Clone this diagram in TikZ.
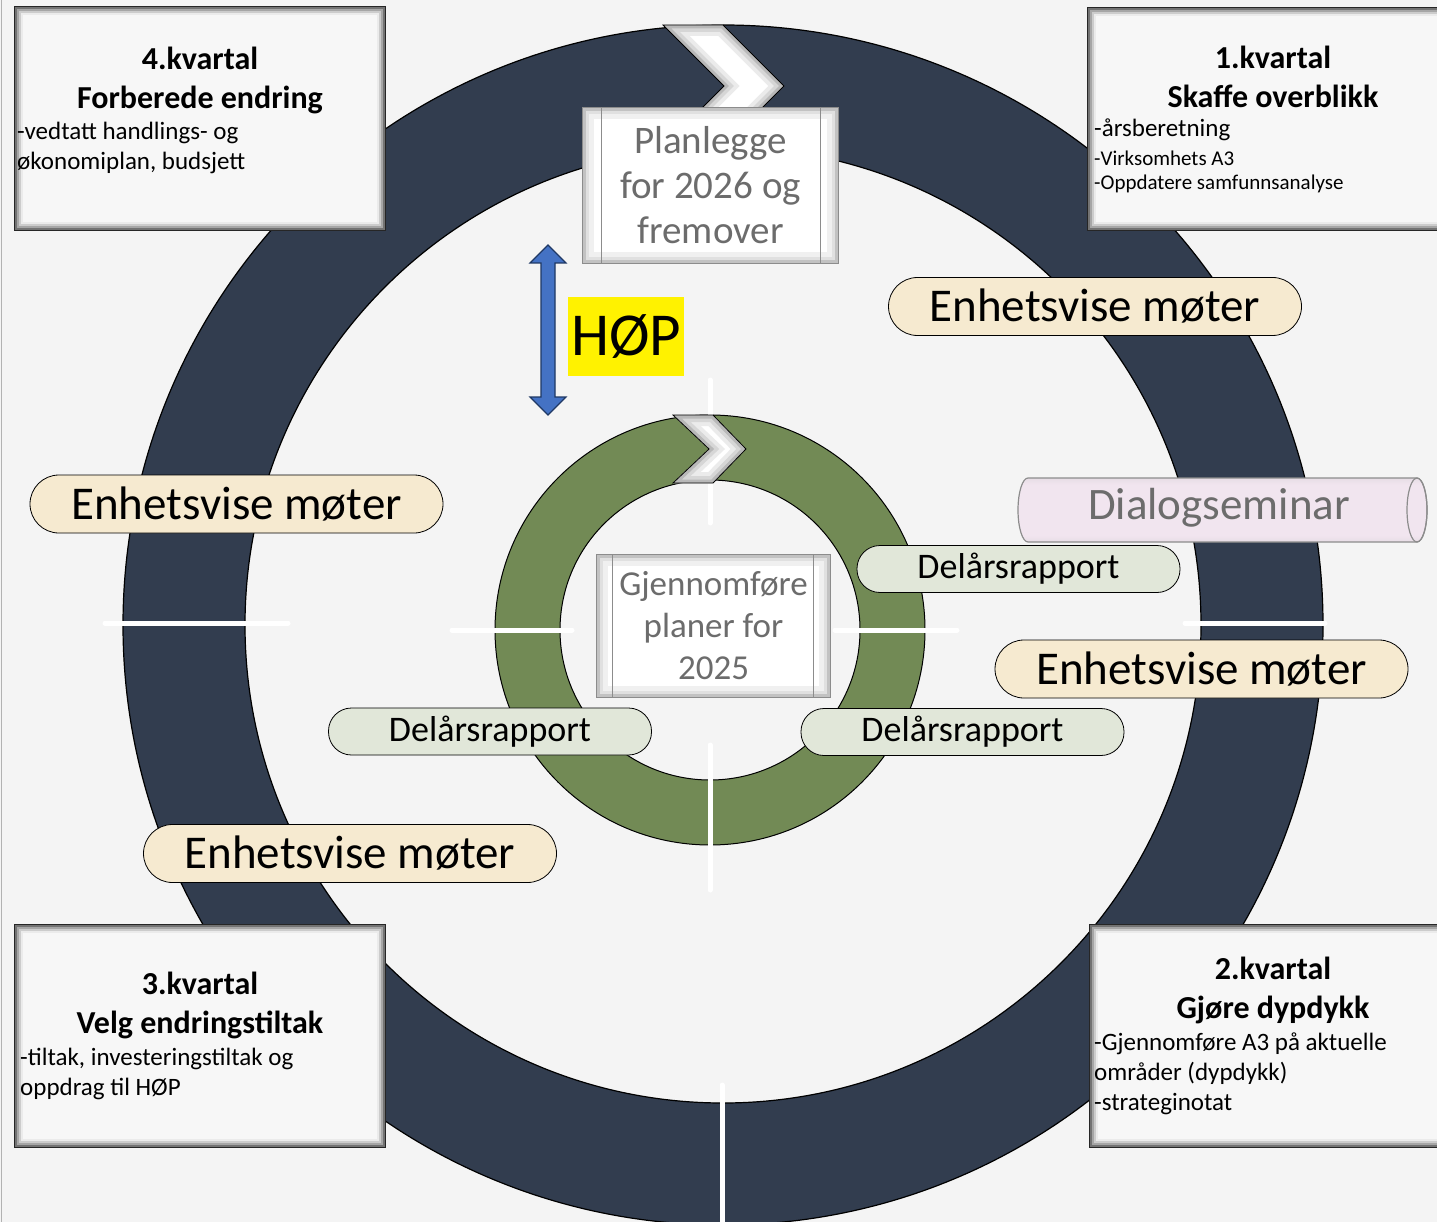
\documentclass[tikz,border=0pt]{standalone}
\usepackage{fontspec}
\setmainfont{Carlito}
\definecolor{bg}{RGB}{244,244,244}
\definecolor{ringdark}{RGB}{50,61,79}
\definecolor{ringgreen}{RGB}{114,138,85}
\definecolor{pillcream}{RGB}{246,234,208}
\definecolor{pillsage}{RGB}{225,231,217}
\definecolor{dialogpink}{RGB}{241,229,239}
\definecolor{arrowblue}{RGB}{68,114,196}
\definecolor{arrowedge}{RGB}{31,56,100}
\definecolor{boxgray}{RGB}{108,108,108}
\pgfdeclareverticalshading{tube}{100bp}{color(0bp)=(black!30); color(30bp)=(dialogpink); color(70bp)=(dialogpink); color(100bp)=(black!30)}
\begin{document}
\begin{tikzpicture}[x=1pt,y=-1pt,
  kvartal/.style={draw=black!85,line width=1.5pt,fill=black!3,minimum width=370pt,minimum height=223pt,inner sep=0pt},
  head/.style={font=\fontsize{32}{39}\selectfont\bfseries,align=center,inner sep=0pt},
  body/.style={font=\fontsize{25}{30}\selectfont,align=left,anchor=west,inner sep=0pt},
  smallbody/.style={font=\fontsize{21}{26}\selectfont,anchor=west,inner sep=0pt},
  enhet/.style={draw,line width=0.8pt,fill=pillcream,rounded corners=29pt,minimum width=413pt,minimum height=58pt,inner sep=0pt,font=\fontsize{47}{50}\selectfont},
  delrapp/.style={draw,line width=0.8pt,fill=pillsage,rounded corners=23pt,minimum width=323pt,minimum height=47pt,inner sep=0pt,font=\fontsize{36}{40}\selectfont},
  prosess/.style={draw=black!45,line width=1.2pt,fill=white,text=boxgray,align=center,inner sep=0pt},
  tick/.style={white,line width=5pt,line cap=round}]
\clip (0,0) rectangle (1437,1222);
\fill[bg] (0,0) rectangle (1437,1222);
\draw[black!30] (1.5,0) -- (1.5,1222);

% outer year wheel
\coordinate (O) at (723,625);
\fill[ringdark,even odd rule] (O) circle[radius=600] (O) circle[radius=478];
\draw[black,line width=1.2pt] (O) circle[radius=600] (O) circle[radius=478];
\draw[tick] (105,623) -- (288,623);
\draw[tick] (1185,623) -- (1325,623);
\draw[tick] (722,1085) -- (722,1222);

% inner wheel
\coordinate (M) at (710,630);
\fill[ringgreen,even odd rule] (M) circle[radius=215] (M) circle[radius=150];
\draw[black,line width=1pt] (M) circle[radius=215] (M) circle[radius=150];
\draw[tick] (710,380) -- (710,523);
\draw[tick] (710,745) -- (710,890);
\draw[tick] (452,630) -- (572,630);
\draw[tick] (835,630) -- (957,630);

% chevrons with a soft inner edge
\foreach \ax/\ay/\bx/\by/\cx/\cy/\dx/\dy/\ex/\ey/\fx/\fy in
  {663/25/723/25/784/86/723/147/663/147/724/86,
   673/415/713/415/746/449/713/483/673/483/709/449}{
  \begin{scope}
    \clip (\ax,\ay) -- (\bx,\by) -- (\cx,\cy) -- (\dx,\dy) -- (\ex,\ey) -- (\fx,\fy) -- cycle;
    \fill[white] (\ax,\ay) -- (\bx,\by) -- (\cx,\cy) -- (\dx,\dy) -- (\ex,\ey) -- (\fx,\fy) -- cycle;
    \foreach \w/\c in {22/8,14/16,7/28}
      \draw[black!\c,line width=\w pt] (\ax,\ay) -- (\bx,\by) -- (\cx,\cy) -- (\dx,\dy) -- (\ex,\ey) -- (\fx,\fy) -- cycle;
  \end{scope}
  \draw[black,line width=0.8pt] (\ax,\ay) -- (\bx,\by) -- (\cx,\cy) -- (\dx,\dy) -- (\ex,\ey) -- (\fx,\fy) -- cycle;
}

% process boxes
\node[prosess,minimum width=255pt,minimum height=155pt,font=\fontsize{39}{45}\selectfont] (plan) at (710.5,185.5) {Planlegge\\for 2026 og\\fremover};
\node[prosess,minimum width=233pt,minimum height=142pt,font=\fontsize{35}{42}\selectfont] (gjen) at (713.5,626) {Gjennomføre\\planer for\\2025};
\foreach \b in {plan,gjen}{
  \begin{scope}
    \clip (\b.north west) rectangle (\b.south east);
    \foreach \w/\c in {24/6,14/12,7/24}
      \draw[black!\c,line width=\w pt] (\b.north west) rectangle (\b.south east);
  \end{scope}
  \draw[black!45,line width=1.2pt] (\b.north west) rectangle (\b.south east);
}
\draw[black!45,line width=1.2pt] ([xshift=19pt]plan.north west) -- ([xshift=19pt]plan.south west);
\draw[black!45,line width=1.2pt] ([xshift=-18pt]plan.north east) -- ([xshift=-18pt]plan.south east);
\draw[black!45,line width=1.2pt] ([xshift=16pt]gjen.north west) -- ([xshift=16pt]gjen.south west);
\draw[black!45,line width=1.2pt] ([xshift=-17pt]gjen.north east) -- ([xshift=-17pt]gjen.south east);

% HØP
\draw[fill=arrowblue,draw=arrowedge,line width=1.2pt] (548,245) -- (566,263) -- (555,263) -- (555,397) -- (566,397) -- (548,415) -- (530,397) -- (541,397) -- (541,263) -- (530,263) -- cycle;
\node[fill=yellow,minimum width=116pt,minimum height=79pt,inner sep=0pt,font=\fontsize{61}{61}\selectfont] (hop) at (626,336.5) {HØP};

% quarters
\node[kvartal] (q4) at (200,118.5) {};
\node[kvartal] (q1) at (1273,119) {};
\node[kvartal] (q3) at (200,1036) {};
\node[kvartal] (q2) at (1275,1036) {};
\foreach \q in {q1,q2,q3,q4}
  \foreach \i/\c in {2/55,4/35,6/20,8/8}
    \draw[black!\c,line width=2pt] ([shift={(\i,\i)}]\q.north west) rectangle ([shift={(-\i,-\i)}]\q.south east);

\node[head] (q4h) at (200,80) {4.kvartal\\Forberede endring};
\node[body] (q4b) at (17,148) {-vedtatt handlings- og\\økonomiplan, budsjett};
\node[head] (q1h) at (1273,77) {1.kvartal\\Skaffe overblikk};
\node[body] (q1b) at (1094,130) {-årsberetning};
\node[smallbody] (q1c) at (1094,158) {-Virksomhets A3};
\node[smallbody] (q1d) at (1094,184) {-Oppdatere samfunnsanalyse};
\node[head] (q3h) at (200,1005.5) {3.kvartal\\Velg endringstiltak};
\node[body] (q3b) at (20,1074) {-tiltak, investeringstiltak og\\oppdrag til HØP};
\node[head] (q2h) at (1273,990) {2.kvartal\\Gjøre dypdykk};
\node[body] (q2b) at (1094,1074) {-Gjennomføre A3 på aktuelle\\områder (dypdykk)\\-strateginotat};

% dialog seminar
\draw[black!45,line width=1.2pt,shade,shading=tube] (1028,478) -- (1417,478) arc[start angle=-90,end angle=90,x radius=10,y radius=32] -- (1028,542) arc[start angle=90,end angle=270,x radius=10,y radius=32] -- cycle;
\draw[black!45,line width=1.2pt] (1417,510) ellipse[x radius=10,y radius=32];
\node[text=boxgray,font=\fontsize{45}{50}\selectfont] (dialog) at (1219,508) {Dialogseminar};

% meetings and reports
\node[enhet] (e1) at (236.5,504) {Enhetsvise møter};
\node[enhet] (e2) at (1095,306.5) {Enhetsvise møter};
\node[enhet] (e3) at (1201.5,669) {Enhetsvise møter};
\node[enhet] (e4) at (350,853.5) {Enhetsvise møter};
\node[delrapp] (d1) at (490,731.5) {Delårsrapport};
\node[delrapp] (d2) at (1018.5,569) {Delårsrapport};
\node[delrapp] (d3) at (962.5,732) {Delårsrapport};
\end{tikzpicture}
\end{document}
